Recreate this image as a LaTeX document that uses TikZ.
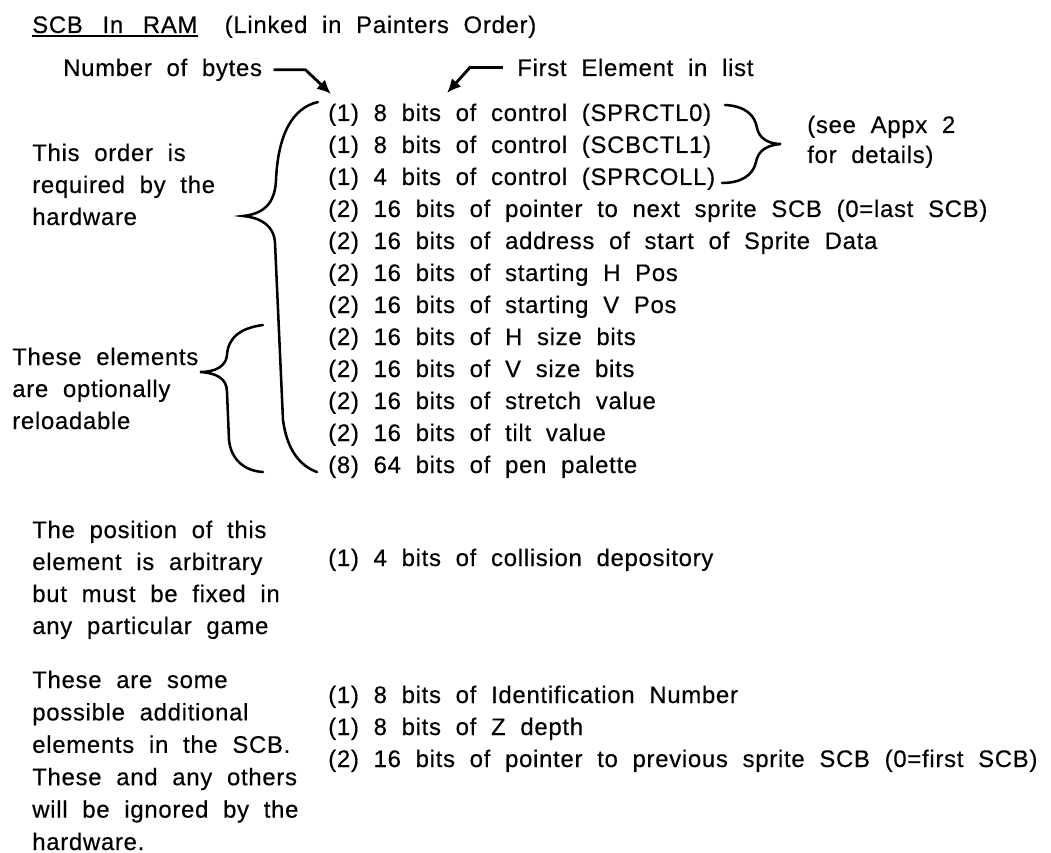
\documentclass[tikz,border=0pt]{standalone}
\usepackage{fontspec}
\setmainfont{Liberation Sans}[LetterSpace=3.0,WordSpace=2.0,FakeBold=0.4]
\usetikzlibrary{arrows.meta, positioning}

\tikzset{
  txt/.style={anchor=base west, inner sep=0pt, font=\fontsize{17}{20}\selectfont},
  ptr/.style={line width=2pt, -{Latex[length=10pt,width=9pt]}},
  brace/.style={line width=1.8pt, line cap=round},
}

\begin{document}
\begin{tikzpicture}[x=0.025cm, y=-0.025cm]
    \useasboundingbox (0,0) rectangle (1051,853);

    % Title
    \node[txt] (title) at (32,33) {SCB\hspace{14pt}In\hspace{14pt}RAM};
    \node[txt, base right=19pt of title] (linked) {(Linked in Painters Order)};
    \draw[line width=1.4pt] ([yshift=-2pt]title.base west) -- ([yshift=-2pt]title.base east);

    % Pointer labels
    \node[txt] (bytes) at (63,76) {Number of bytes};
    \node[txt] (first) at (517,76) {First Element in list};
    \coordinate (bytip) at (331,94);
    \coordinate (fetip) at (447,93);
    \draw[ptr] ([xshift=8pt]bytes.east) -- ++(32,0) -- (bytip);
    \draw[ptr] ([xshift=-10pt]first.west) -- ++(-33,0) -- (fetip);

    % SCB elements
    \foreach \i/\txt in {1/{(1) 8 bits of control (SPRCTL0)}, 2/{(1) 8 bits of control (SCBCTL1)},
        3/{(1) 4 bits of control (SPRCOLL)}, 4/{(2) 16 bits of pointer to next sprite SCB (0=last SCB)},
        5/{(2) 16 bits of address of start of Sprite Data}, 6/{(2) 16 bits of starting H Pos},
        7/{(2) 16 bits of starting V Pos}, 8/{(2) 16 bits of H size bits},
        9/{(2) 16 bits of V size bits}, 10/{(2) 16 bits of stretch value},
        11/{(2) 16 bits of tilt value}, 12/{(8) 64 bits of pen palette}} {
        \node[txt] (el\i) at (328,{89+32*\i}) {\txt};
    }
    \node[txt] (coll) at (328,566) {(1) 4 bits of collision depository};
    \foreach \i/\txt in {1/{(1) 8 bits of Identification Number}, 2/{(1) 8 bits of Z depth},
        3/{(2) 16 bits of pointer to previous sprite SCB (0=first SCB)}} {
        \node[txt] (ex\i) at (328,{671+32*\i}) {\txt};
    }

    % Notes
    \node[txt] (appx1) at (807,133) {(see Appx 2};
    \node[txt] (appx2) at (807,163) {for details)};
    \foreach \k/\txt in {1/This order is, 2/required by the, 3/hardware} {
        \node[txt] (ord\k) at (32,{129+32*\k}) {\txt};
    }
    \foreach \k/\txt in {1/These elements, 2/are optionally, 3/reloadable} {
        \node[txt] (opt\k) at (12,{333+32*\k}) {\txt};
    }
    \foreach \k/\txt in {1/The position of this, 2/element is arbitrary, 3/but must be fixed in, 4/any particular game} {
        \node[txt] (pos\k) at (32,{506+32*\k}) {\txt};
    }
    \foreach \k/\txt in {1/These are some, 2/possible additional, 3/elements in the SCB., 4/These and any others,
        5/will be ignored by the, 6/hardware.} {
        \node[txt] (add\k) at (32,{655.6+32.4*\k}) {\txt};
    }

    % Braces
    \draw[brace] (318,102) .. controls (292,108) and (278,135) .. (276,180)
        .. controls (275,205) and (262,214) .. (243,216)
        .. controls (262,218) and (274,226) .. (275,243) -- (283,420)
        .. controls (287,450) and (300,466) .. (317,472);
    \draw[brace] (263,325) .. controls (240,328) and (228,338) .. (227,355)
        .. controls (226,366) and (216,372) .. (200,372)
        .. controls (216,373) and (227,378) .. (227,392) -- (229,440)
        .. controls (231,460) and (245,471) .. (263,472);
    \draw[brace] (725,105) .. controls (745,106) and (755,115) .. (757,128)
        .. controls (759,138) and (768,144) .. (781,144)
        .. controls (768,145) and (758,150) .. (756,162)
        .. controls (753,176) and (740,183) .. (722,183);
\end{tikzpicture}
\end{document}
